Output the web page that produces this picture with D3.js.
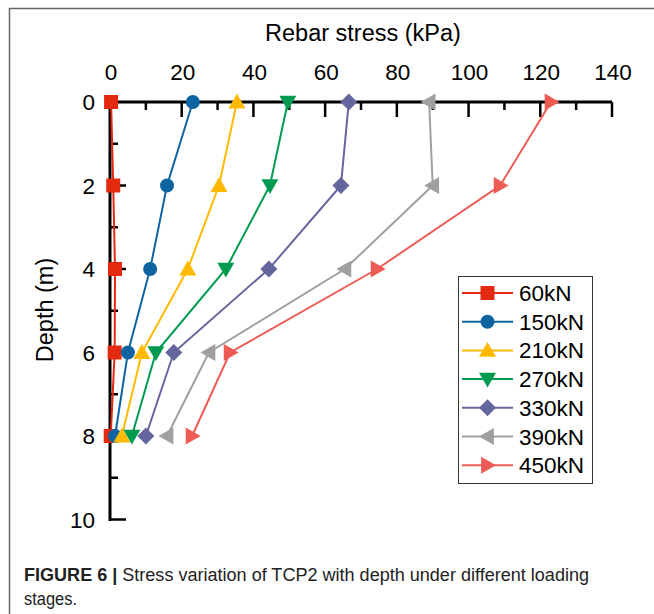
<!DOCTYPE html>
<html>
<head>
<meta charset="utf-8">
<script src="https://cdn.jsdelivr.net/npm/d3@7"></script>
<style>
    body { margin: 0; background: #fff; }
    svg { display: block; font-family: "Liberation Sans", Arial, sans-serif; }
</style>
</head>
<body>
<div id="chart"></div>
<script>
// depth of each gauge (m)
const depths = [0, 2, 4, 6, 8];

// load stages and stress readings (kPa)
const loadStages = ["60kN", "150kN", "210kN", "270kN", "330kN", "390kN", "450kN"];
const stress60 = [0.3, 0.9, 1.4, 1.3, 0.2];
const stress150 = [23.1, 15.9, 11.2, 5.0, 1.4];
const stress210 = [35.4, 30.4, 21.7, 8.9, 3.3];
const stress270 = [49.6, 44.6, 32.3, 12.8, 6.1];
const stress330 = [66.6, 64.4, 44.3, 17.8, 10.0];
const stress390 = [89.0, 90.0, 65.5, 27.6, 15.9];
const stress450 = [123.0, 108.8, 74.5, 33.5, 22.9];

const xTicks = [0, 20, 40, 60, 80, 100, 120, 140];
const yTicks = [0, 2, 4, 6, 8, 10];

const seriesValues = [stress60, stress150, stress210, stress270, stress330, stress390, stress450];
const colors = ["#e3290f", "#0e64a0", "#ffba00", "#009b50", "#66669f", "#a0a0a0", "#ec5c55"];
const shapes = ["square", "circle", "triangleUp", "triangleDown", "diamond", "triangleLeft", "triangleRight"];

const W = 654, H = 614;
const svg = d3.select("#chart").append("svg").attr("width", W).attr("height", H);

// frame (top and left only)
svg.append("line").attr("x1", 9).attr("x2", W).attr("y1", 8.5).attr("y2", 8.5)
    .attr("stroke", "#666").attr("stroke-width", 1.5);
svg.append("line").attr("x1", 9.5).attr("x2", 9.5).attr("y1", 8).attr("y2", H)
    .attr("stroke", "#666").attr("stroke-width", 1.5);

const x = d3.scaleLinear().domain([0, 140]).range([110, 612]);
const y = d3.scaleLinear().domain([0, 10]).range([102, 519.5]);

// x axis on top, ticks pointing down
const xAxis = svg.append("g");
xAxis.append("line").attr("x1", x(0)).attr("x2", x(140)).attr("y1", y(0)).attr("y2", y(0))
    .attr("stroke", "#000").attr("stroke-width", 3);
d3.range(0, 141, 10).forEach(v => {
    const major = v % 20 === 0;
    if (v === 0) return;
    xAxis.append("line").attr("x1", x(v)).attr("x2", x(v))
        .attr("y1", y(0)).attr("y2", y(0) + (major ? 15 : 8))
        .attr("stroke", "#000").attr("stroke-width", 2.5);
});
xAxis.selectAll("text.xt").data(xTicks).enter().append("text")
    .attr("x", d => x(d) + 1).attr("y", 80)
    .attr("text-anchor", "middle").attr("font-size", 22.5).text(d => d);

// y axis, ticks pointing right
const yAxis = svg.append("g");
yAxis.append("line").attr("x1", x(0)).attr("x2", x(0)).attr("y1", y(0) - 1.5).attr("y2", y(10) + 1.5)
    .attr("stroke", "#000").attr("stroke-width", 3);
d3.range(1, 11, 1).forEach(v => {
    const major = v % 2 === 0;
    yAxis.append("line").attr("x1", x(0)).attr("x2", x(0) + (major ? 16 : 8))
        .attr("y1", y(v)).attr("y2", y(v))
        .attr("stroke", "#000").attr("stroke-width", 2.5);
});
yAxis.selectAll("text.yt").data(yTicks).enter().append("text")
    .attr("x", 95).attr("y", d => y(d) + 8)
    .attr("text-anchor", "end").attr("font-size", 22.5).text(d => d);

// axis titles
svg.append("text").attr("x", 363).attr("y", 41).attr("text-anchor", "middle")
    .attr("font-size", 23.5).text("Rebar stress (kPa)");
svg.append("text").attr("transform", "translate(53,310) rotate(-90)")
    .attr("text-anchor", "middle").attr("font-size", 23.5).text("Depth (m)");

function marker(g, shape, color) {
    const s = 8.5;
    if (shape === "square") {
        g.append("rect").attr("x", -7).attr("y", -7).attr("width", 14).attr("height", 14).attr("fill", color);
    } else if (shape === "circle") {
        g.append("circle").attr("r", 7).attr("fill", color);
    } else {
        let pts;
        if (shape === "triangleUp") pts = [[0, -s], [s, s * 0.75], [-s, s * 0.75]];
        if (shape === "triangleDown") pts = [[0, s], [s, -s * 0.75], [-s, -s * 0.75]];
        if (shape === "triangleLeft") pts = [[-s, 0], [s * 0.75, -s], [s * 0.75, s]];
        if (shape === "triangleRight") pts = [[s, 0], [-s * 0.75, -s], [-s * 0.75, s]];
        if (shape === "diamond") pts = [[0, -s], [s, 0], [0, s], [-s, 0]];
        g.append("polygon").attr("points", pts.map(p => p.join(",")).join(" ")).attr("fill", color);
    }
}

const line = d3.line().x(d => x(d[1])).y(d => y(d[0]));

seriesValues.forEach((vals, i) => {
    const pts = depths.map((d, j) => [d, vals[j]]);
    svg.append("path").datum(pts).attr("d", line)
        .attr("fill", "none").attr("stroke", colors[i]).attr("stroke-width", 2);
    pts.forEach(p => {
        const g = svg.append("g").attr("transform", `translate(${x(p[1])},${y(p[0])})`);
        marker(g, shapes[i], colors[i]);
    });
});

// legend
const lg = svg.append("g");
lg.append("rect").attr("x", 458.5).attr("y", 276.5).attr("width", 134).attr("height", 207)
    .attr("fill", "#fff").attr("stroke", "#333").attr("stroke-width", 1);
loadStages.forEach((name, i) => {
    const ly = 293 + i * 28.7;
    lg.append("line").attr("x1", 462).attr("x2", 513).attr("y1", ly).attr("y2", ly)
        .attr("stroke", colors[i]).attr("stroke-width", 2);
    marker(lg.append("g").attr("transform", `translate(487.5,${ly})`), shapes[i], colors[i]);
    lg.append("text").attr("x", 519).attr("y", ly + 8).attr("font-size", 22.5).text(name);
});

// caption
const cap = svg.append("text").attr("x", 24).attr("y", 581).attr("font-size", 17.5)
    .attr("fill", "#222").attr("textLength", 565).attr("lengthAdjust", "spacingAndGlyphs");
cap.append("tspan").attr("font-weight", "bold").text("FIGURE 6 | ");
cap.append("tspan").text("Stress variation of TCP2 with depth under different loading");
svg.append("text").attr("x", 24).attr("y", 605).attr("font-size", 17.5).attr("fill", "#222")
    .attr("textLength", 53).attr("lengthAdjust", "spacingAndGlyphs").text("stages.");
</script>
</body>
</html>
